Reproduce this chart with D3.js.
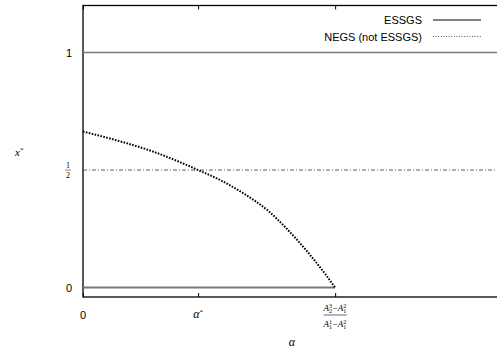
<!DOCTYPE html>
<html>
<head>
<meta charset="utf-8">
<script src="https://cdn.jsdelivr.net/npm/d3@7"></script>
<style>
  body { margin: 0; background: #fff; }
  svg { display: block; }
</style>
</head>
<body>
<svg id="chart" width="497" height="354"></svg>
<script>
// alpha positions (normalised so the right edge of the frame is 1)
const alphaTicks = [0, 0.278, 0.609]
const yTicks = [0, 0.5, 1]
const yTickLabels = ["0", "1/2", "1"]

// ESSGS branches
const essgsTopAlpha = [0, 1]
const essgsTopX = [1, 1]
const essgsBottomAlpha = [0, 0.609]
const essgsBottomX = [0, 0]

// mixed equilibrium x* = 1/2 (dash-dot)
const halfAlpha = [0, 1]
const halfX = [0.5, 0.5]

// NEGS (not ESSGS) curve
const negsAlpha = [0, 0.080, 0.162, 0.242, 0.278, 0.331, 0.391, 0.447, 0.488, 0.536, 0.585, 0.609]
const negsX = [0.664, 0.627, 0.583, 0.528, 0.500, 0.458, 0.397, 0.327, 0.258, 0.165, 0.058, 0]

const legendNames = ["ESSGS", "NEGS (not ESSGS)"]

const svg = d3.select("#chart")
const plotLeft = 83, plotRight = 498, plotTop = 5.5, plotBottom = 297

const x = d3.scaleLinear().domain([0, 1]).range([plotLeft, 497])
const y = d3.scaleLinear().domain([-0.04, 1.2]).range([plotBottom, plotTop])

const line = d3.line().x(d => x(d[0])).y(d => y(d[1]))
const zip = (a, b) => a.map((v, i) => [v, b[i]])

// frame
svg.append("rect")
  .attr("x", plotLeft).attr("y", plotTop)
  .attr("width", plotRight - plotLeft).attr("height", plotBottom - plotTop)
  .attr("fill", "none").attr("stroke", "#000").attr("stroke-width", 1.3)

// inward ticks bottom and top
svg.append("g")
  .attr("transform", `translate(0,${plotBottom})`)
  .call(d3.axisBottom(x).tickValues(alphaTicks).tickSizeInner(-4).tickSizeOuter(0).tickFormat(""))
  .call(g => g.select(".domain").remove())
svg.append("g")
  .attr("transform", `translate(0,${plotTop})`)
  .call(d3.axisTop(x).tickValues(alphaTicks).tickSizeInner(-4).tickSizeOuter(0).tickFormat(""))
  .call(g => g.select(".domain").remove())

// series
svg.append("path").datum(zip(halfAlpha, halfX)).attr("d", line)
  .attr("fill", "none").attr("stroke", "#333").attr("stroke-width", 0.8)
  .attr("stroke-dasharray", "4,2,1,2")
svg.append("path").datum(zip(essgsTopAlpha, essgsTopX)).attr("d", line)
  .attr("fill", "none").attr("stroke", "#777").attr("stroke-width", 1.5)
svg.append("path").datum(zip(essgsBottomAlpha, essgsBottomX)).attr("d", line)
  .attr("fill", "none").attr("stroke", "#777").attr("stroke-width", 2)
svg.append("path").datum(zip(negsAlpha, negsX)).attr("d", line.curve(d3.curveMonotoneX))
  .attr("fill", "none").attr("stroke", "#000").attr("stroke-width", 2)
  .attr("stroke-dasharray", "1.6,1.4")

// y tick labels
const sans = "'Liberation Sans', Arial, sans-serif"
const serif = "'Liberation Serif', 'Times New Roman', serif"
yTicks.forEach((v, i) => {
  const lab = yTickLabels[i]
  if (lab.includes("/")) {
    const [n, d] = lab.split("/")
    const cx = 68
    svg.append("text").attr("x", cx).attr("y", y(v) - 2).attr("text-anchor", "middle")
      .style("font-family", serif).style("font-size", "8px").text(n)
    svg.append("line").attr("x1", cx - 3).attr("x2", cx + 3).attr("y1", y(v)).attr("y2", y(v))
      .attr("stroke", "#000").attr("stroke-width", 0.5)
    svg.append("text").attr("x", cx).attr("y", y(v) + 7.5).attr("text-anchor", "middle")
      .style("font-family", serif).style("font-size", "8px").text(d)
  } else {
    svg.append("text").attr("x", 72).attr("y", y(v) + 4).attr("text-anchor", "end")
      .style("font-family", sans).style("font-size", "11px").text(lab)
  }
})

// x tick labels
svg.append("text").attr("x", x(alphaTicks[0])).attr("y", 319).attr("text-anchor", "middle")
  .style("font-family", sans).style("font-size", "11px").text("0")
const aStar = svg.append("text").attr("x", x(alphaTicks[1])).attr("y", 318).attr("text-anchor", "middle")
  .style("font-family", serif).style("font-size", "12px").style("font-style", "italic")
aStar.append("tspan").text("α")
aStar.append("tspan").attr("dy", -4).style("font-size", "7px").style("font-style", "normal").text("*")

// fraction label A_2^3 - A_1^2 over A_1^1 - A_1^2
function term(g, xpos, ybase, sub, sup) {
  const a = g.append("text").attr("x", xpos).attr("y", ybase)
    .style("font-family", serif).style("font-style", "italic").style("font-size", "9px").text("A")
  const w = a.node().getComputedTextLength()
  g.append("text").attr("x", xpos + w).attr("y", ybase - 3.5)
    .style("font-family", serif).style("font-size", "6px").text(sup)
  g.append("text").attr("x", xpos + w).attr("y", ybase + 2)
    .style("font-family", serif).style("font-size", "6px").text(sub)
  return w + 3.5
}
function expr(g, ybase, parts) {
  let cx = 0
  cx += term(g, cx, ybase, parts[0][0], parts[0][1])
  const m = g.append("text").attr("x", cx).attr("y", ybase)
    .style("font-family", serif).style("font-size", "9px").text("−")
  cx += m.node().getComputedTextLength()
  cx += term(g, cx, ybase, parts[1][0], parts[1][1])
  return cx
}
const fx = x(alphaTicks[2])
const num = svg.append("g")
const wn = expr(num, 311, [["2", "3"], ["1", "2"]])
num.attr("transform", `translate(${fx - wn / 2},0)`)
const den = svg.append("g")
const wd = expr(den, 327, [["1", "1"], ["1", "2"]])
den.attr("transform", `translate(${fx - wd / 2},0)`)
const bw = Math.max(wn, wd)
svg.append("line").attr("x1", fx - bw / 2).attr("x2", fx + bw / 2).attr("y1", 315).attr("y2", 315)
  .attr("stroke", "#000").attr("stroke-width", 0.6)

// axis titles
svg.append("text").attr("x", 292).attr("y", 346).attr("text-anchor", "middle")
  .style("font-family", serif).style("font-style", "italic").style("font-size", "12px").text("α")
const yt = svg.append("text").attr("x", 15).attr("y", 156)
  .style("font-family", serif).style("font-style", "italic").style("font-size", "11px")
yt.append("tspan").text("x")
yt.append("tspan").attr("dy", -4).style("font-size", "7px").style("font-style", "normal").text("*")

// legend
const leg = svg.append("g")
legendNames.forEach((name, i) => {
  const ly = 20 + i * 16.5
  leg.append("text").attr("x", 422).attr("y", ly + 4).attr("text-anchor", "end")
    .style("font-family", sans).style("font-size", "11px").text(name)
  leg.append("line").attr("x1", 433).attr("x2", 481).attr("y1", ly).attr("y2", ly)
    .attr("stroke", i === 0 ? "#000" : "#444").attr("stroke-width", i === 0 ? 1 : 0.9)
    .attr("stroke-dasharray", i === 0 ? null : "1,1.6")
})
</script>
</body>
</html>
